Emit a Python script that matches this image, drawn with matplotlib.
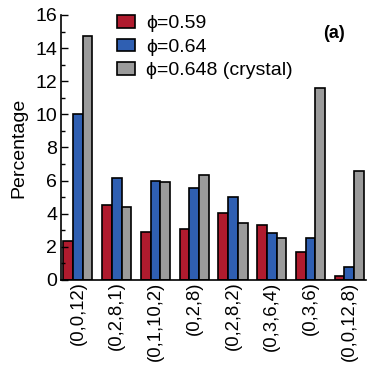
import numpy as np
import matplotlib.pyplot as plt
from matplotlib.ticker import MultipleLocator

plt.rcParams['font.family'] = ['Liberation Sans', 'DejaVu Sans']

clusters = ['(0,0,12)', '(0,2,8,1)', '(0,1,10,2)', '(0,2,8)',
            '(0,2,8,2)', '(0,3,6,4)', '(0,3,6)', '(0,0,12,8)']
phi_059 = [2.37, 4.55, 2.88, 3.08, 4.03, 3.34, 1.69, 0.24]
phi_064 = [10.0, 6.18, 5.98, 5.56, 4.99, 2.82, 2.54, 0.77]
phi_0648 = [14.7, 4.39, 5.94, 6.36, 3.42, 2.56, 11.6, 6.6]

labels = ['\u03d5=0.59', '\u03d5=0.64', '\u03d5=0.648 (crystal)']
colors = ['#B01B2E', '#2F5FB2', '#9B9B9B']

fs = 14
fig = plt.figure(figsize=(3.67, 3.65), dpi=100)
ax = fig.add_axes([0.167, 0.233, 0.83, 0.726])

x = np.arange(len(clusters))
w = 0.25
for i, (vals, lab, c) in enumerate(zip([phi_059, phi_064, phi_0648], labels, colors)):
    ax.bar(x + (i - 1) * w, vals, w, color=c, edgecolor='black', linewidth=1.2, label=lab)

ax.set_xlim(-0.43, 7.43)
ax.set_ylim(0, 16)
ax.yaxis.set_major_locator(MultipleLocator(2))
ax.yaxis.set_minor_locator(MultipleLocator(1))
ax.tick_params(axis='y', which='major', direction='in', length=5, labelsize=fs, width=1, pad=3)
ax.tick_params(axis='y', which='minor', direction='in', length=3, width=1)
ax.tick_params(axis='x', length=0, labelsize=13.3, pad=1)
ax.set_xticks(x)
ax.set_xticklabels(clusters, rotation=90)
ax.spines['top'].set_visible(False)
ax.spines['right'].set_visible(False)
ax.spines['left'].set_linewidth(1.2)
ax.spines['bottom'].set_linewidth(1.2)
ax.set_ylabel('Percentage', fontsize=fs, labelpad=6)

ax.legend(loc='upper left', bbox_to_anchor=(0.125, 1.065), frameon=False, fontsize=fs,
          handlelength=0.95, handleheight=0.62, labelspacing=0.32, handletextpad=0.55)
ax.text(0.93, 0.93, '(a)', transform=ax.transAxes, fontsize=13, fontweight='bold',
        ha='right', va='center')

fig.savefig('out.png', dpi=100)
